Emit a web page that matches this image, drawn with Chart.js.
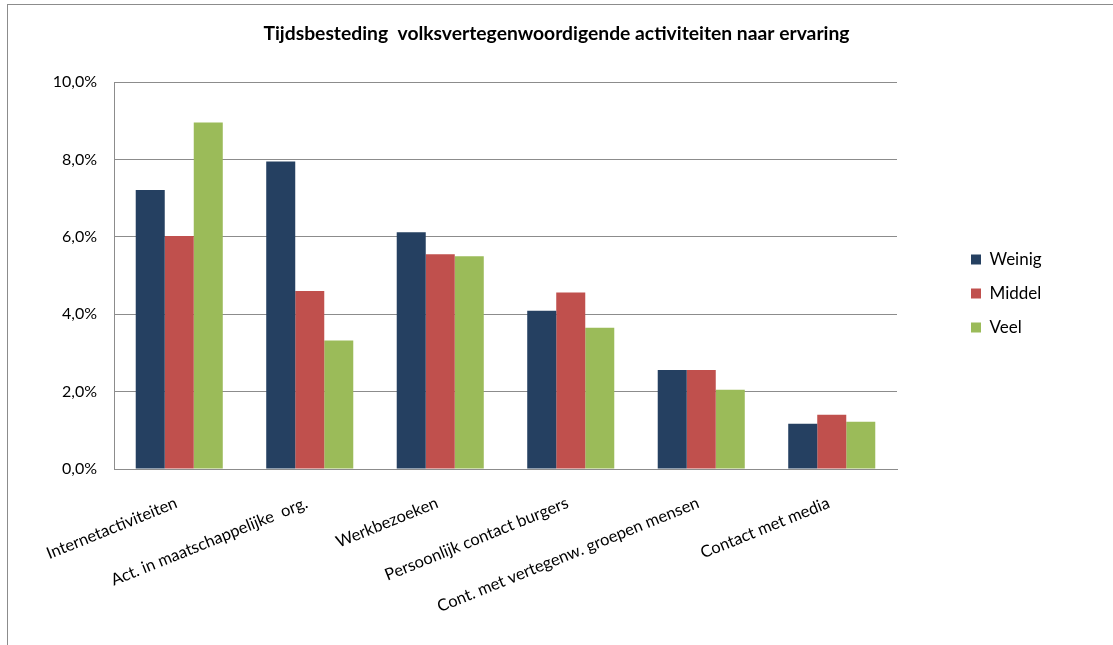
<!DOCTYPE html>
<html>
<head>
<meta charset="utf-8">
<script src="https://cdn.jsdelivr.net/npm/chart.js@4.4.1/dist/chart.umd.min.js"></script>
<style>
    html, body { margin: 0; padding: 0; background: #ffffff; overflow: hidden; }
    #wrap {
        position: absolute; left: 7px; top: 4px; width: 1120px; height: 660px;
        border: 1px solid #8c8c8c; box-sizing: border-box;
    }
    #box { position: absolute; left: 0; top: 0; width: 1113px; height: 645px; }
</style>
</head>
<body>
<div id="wrap"></div>
<div id="box"><canvas id="grafiek"></canvas></div>
<script>
// Gegevens (percentages)
const categorieen = [
    "Internetactiviteiten",
    "Act. in maatschappelijke  org.",
    "Werkbezoeken",
    "Persoonlijk contact burgers",
    "Cont. met vertegenw. groepen mensen",
    "Contact met media"
];
const weinig = [7.21, 7.95, 6.12, 4.09, 2.56, 1.17];
const middel = [6.02, 4.60, 5.55, 4.56, 2.56, 1.40];
const veel   = [8.96, 3.32, 5.50, 3.65, 2.05, 1.22];
const yTicks = [0, 2, 4, 6, 8, 10];

const lettertype = "Lato, 'Open Sans', sans-serif";

// Legenda op vaste plek rechts van het plotvlak (zoals in Excel)
const legendePlek = {
    id: 'legendePlek',
    beforeLayout(chart) {
        const lg = chart.legend;
        if (lg && !lg._vasteBreedte) {
            const origFit = lg.fit;
            lg.fit = function () { origFit.call(this); this.width = 216; };
            lg._vasteBreedte = true;
        }
    },
    afterLayout(chart) {
        const lg = chart.legend;
        if (!lg) return;
        lg.left += 57; lg.right += 57;
        lg.top -= 29; lg.bottom -= 29;
    }
};

const ctx = document.getElementById('grafiek').getContext('2d');
new Chart(ctx, {
    type: 'bar',
    data: {
        labels: categorieen,
        datasets: [
            { label: 'Weinig', data: weinig, backgroundColor: '#254061' },
            { label: 'Middel', data: middel, backgroundColor: '#c0504d' },
            { label: 'Veel', data: veel, backgroundColor: '#9bbb59' }
        ]
    },
    plugins: [legendePlek],
    options: {
        responsive: true,
        maintainAspectRatio: false,
        animation: false,
        datasets: { bar: { categoryPercentage: 0.667, barPercentage: 1.0 } },
        layout: { padding: 0 },
        plugins: {
            title: {
                display: true,
                text: 'Tijdsbesteding  volksvertegenwoordigende activiteiten naar ervaring',
                color: '#000000',
                font: { family: lettertype, size: 19.3, weight: 'bold' },
                padding: { top: 22, bottom: 37 }
            },
            legend: {
                position: 'right',
                align: 'center',
                labels: {
                    color: '#000000',
                    boxWidth: 10,
                    boxHeight: 10,
                    padding: 17,
                    font: { family: lettertype, size: 17 }
                }
            },
            tooltip: { enabled: false }
        },
        scales: {
            y: {
                min: 0,
                max: 10,
                afterBuildTicks: (as) => { as.ticks = yTicks.map(v => ({ value: v })); },
                afterFit: (as) => { as.width = 114; },
                grid: { color: '#8c8c8c', lineWidth: 1, drawTicks: false },
                border: { color: '#8c8c8c' },
                ticks: {
                    color: '#000000',
                    padding: 17,
                    font: { family: lettertype, size: 16 },
                    callback: (v) => v.toFixed(1).replace('.', ',') + '%'
                }
            },
            x: {
                afterFit: (as) => { as.height = 176; },
                grid: { display: false, drawTicks: false },
                border: { color: '#8c8c8c' },
                ticks: {
                    color: '#000000',
                    minRotation: 22,
                    maxRotation: 22,
                    autoSkip: false,
                    padding: 24,
                    labelOffset: -3,
                    font: { family: lettertype, size: 16.5 }
                }
            }
        }
    }
});
</script>
</body>
</html>
